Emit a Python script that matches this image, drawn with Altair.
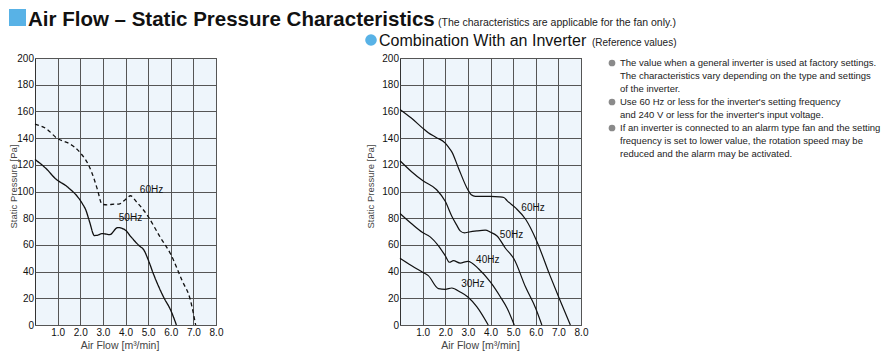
import altair as alt
import pandas as pd

FONT = "Liberation Sans"
BLUE = "#58b2e6"
GRID = "#555555"

# ---------------- data ----------------
X_TICKS = [1, 2, 3, 4, 5, 6, 7, 8]
Y_TICKS = [0, 20, 40, 60, 80, 100, 120, 140, 160, 180, 200]

# Left chart: fan only
L50_X = [0, 0.5, 0.91, 1.43, 2.09, 2.25, 2.4, 2.63, 2.8, 2.97, 3.3, 3.66, 4.0, 4.22, 4.63, 4.8, 5.0, 5.24, 5.68, 6.0, 6.25]
L50_Y = [124, 117, 109.5, 103.5, 91, 86, 78, 67, 67.5, 68.5, 67.7, 73, 71, 66.5, 59, 56.5, 49, 38, 21, 11, 0]
L60_X = [0, 0.5, 1.0, 1.3, 1.5, 2.0, 2.38, 2.6, 2.75, 2.97, 3.2, 3.5, 3.7, 4.0, 4.22, 4.5, 4.95, 5.55, 6.0, 6.5, 6.87, 7.1]
L60_Y = [150.5, 147, 139.6, 137.4, 136, 129, 119.4, 110, 102, 90.4, 90, 90.5, 90.5, 94, 96.8, 92, 82.5, 65.3, 53, 33.3, 18.6, 0]
L_LABELS = ["60Hz", "50Hz"]
L_LABEL_X = [5.15, 4.22]
L_LABEL_Y = [101, 79.8]

# Right chart: combination with an inverter
R60_X = [0, 0.5, 1.0, 1.25, 1.6, 2.0, 2.15, 2.29, 2.59, 3.0, 3.15, 3.33, 4.0, 4.4, 4.59, 4.74, 5.11, 5.56, 6.04, 6.6, 7.04, 7.53]
R60_Y = [161.5, 155, 147.5, 144, 140.5, 136.3, 133, 129.7, 117.3, 101.3, 97.5, 96.3, 96.3, 96, 95.5, 93, 87.7, 79, 63, 38.3, 19.8, 0]
R50_X = [0, 0.5, 1.0, 1.62, 2.0, 2.29, 2.5, 2.66, 2.85, 3.0, 3.4, 3.77, 4.0, 4.29, 4.66, 5.04, 5.55, 6.0, 6.27]
R50_Y = [123, 115, 108.2, 101.3, 92.7, 81.5, 75, 70.5, 69, 69.5, 70.5, 71, 69.5, 66.7, 57.5, 49.4, 28.4, 12.4, 0]
R40_X = [0, 0.5, 1.0, 1.32, 1.7, 2.0, 2.19, 2.36, 2.66, 3.0, 3.48, 4.0, 4.44, 4.74, 5.05]
R40_Y = [83.5, 76, 69.2, 66.2, 59.3, 51.9, 47, 48.2, 46.4, 47.7, 42, 32.1, 21, 12.4, 0]
R30_X = [0, 0.5, 1.0, 1.25, 1.7, 2.0, 2.29, 2.66, 3.0, 3.4, 3.9]
R30_Y = [50, 44.5, 39.5, 37, 27.2, 26.7, 27.7, 24.7, 21, 13.6, 0]
R_LABELS = ["60Hz", "50Hz", "40Hz", "30Hz"]
R_LABEL_X = [5.88, 4.93, 3.88, 3.22]
R_LABEL_Y = [87.5, 67.5, 48.5, 30.5]

TITLE = "Air Flow – Static Pressure Characteristics"
TITLE_NOTE = "(The characteristics are applicable for the fan only.)"
SUBHEAD = "Combination With an Inverter"
SUBHEAD_NOTE = "(Reference values)"
NOTES = [
    "The value when a general inverter is used at factory settings.",
    "The characteristics vary depending on the type and settings",
    "of the inverter.",
    "Use 60 Hz or less for the inverter's setting frequency",
    "and 240 V or less for the inverter's input voltage.",
    "If an inverter is connected to an alarm type fan and the setting",
    "frequency is set to lower value, the rotation speed may be",
    "reduced and the alarm may be activated.",
]
BULLET_LINES = [0, 3, 5]

W, H = 181, 267


def long_df(pairs):
    rows = []
    for name, xs, ys in pairs:
        for i, (a, b) in enumerate(zip(xs, ys)):
            rows.append({"series": name, "x": a, "y": b, "order": i})
    return pd.DataFrame(rows)


def encs(title_x, title_y, xt_x):
    xe = alt.X(
        "x:Q",
        scale=alt.Scale(domain=[0, 8], nice=False, zero=False),
        axis=alt.Axis(
            values=X_TICKS, format=".1f", title="Air Flow [m³/min]",
            grid=True, gridColor=GRID, gridWidth=1, ticks=False, domain=False,
            labelFlush=False, labelPadding=2, labelFont=FONT, labelFontSize=10,
            labelColor="#111", titleFont=FONT, titleFontSize=10.5,
            titleFontWeight="normal", titleColor="#444",
            titleX=xt_x, titleY=23, titleAlign="center", titleBaseline="alphabetic",
        ),
    )
    ye = alt.Y(
        "y:Q",
        scale=alt.Scale(domain=[0, 200], nice=False, zero=True),
        axis=alt.Axis(
            values=Y_TICKS, title="Static Pressure [Pa]",
            grid=True, gridColor=GRID, gridWidth=1, ticks=False, domain=False,
            labelPadding=1.5, labelFont=FONT, labelFontSize=10, labelColor="#111",
            titleFont=FONT, titleFontSize=9.5, titleFontWeight="normal",
            titleColor="#444", titleAngle=-90, titleX=title_x, titleY=title_y,
            titleAlign="center", titleBaseline="bottom",
        ),
    )
    return xe, ye


def one(text):
    return alt.Chart(pd.DataFrame({"t": [text]}))


# ---------------- left panel ----------------
lx, ly = encs(-16.5, 128, 84.5)
left_df = long_df([("60Hz", L60_X, L60_Y), ("50Hz", L50_X, L50_Y)])
left_lines = alt.Chart(left_df).mark_line(
    interpolate="monotone", color="#111", strokeWidth=1.3
).encode(
    x=lx, y=ly, order="order:Q", detail="series:N",
    strokeDash=alt.StrokeDash(
        "series:N",
        scale=alt.Scale(domain=["50Hz", "60Hz"], range=[[1, 0], [4, 3]]),
        legend=None,
    ),
)
left_labels = alt.Chart(
    pd.DataFrame({"x": L_LABEL_X, "y": L_LABEL_Y, "label": L_LABELS})
).mark_text(font=FONT, fontSize=10, color="#111").encode(x=lx, y=ly, text="label:N")

square = one("sq").mark_rect(color=BLUE).encode(
    x=alt.value(-26), x2=alt.value(-9), y=alt.value(-49), y2=alt.value(-32)
)
title = one(TITLE).mark_text(
    font=FONT, fontSize=20.5, fontWeight="bold", align="left", baseline="alphabetic", color="#111"
).encode(x=alt.value(-7), y=alt.value(-32), text="t:N")
title_note = one(TITLE_NOTE).mark_text(
    font=FONT, fontSize=10.5, align="left", baseline="alphabetic", color="#222"
).encode(x=alt.value(403), y=alt.value(-32), text="t:N")

left = alt.layer(left_lines, left_labels, square, title, title_note).properties(width=W, height=H)

# ---------------- right panel ----------------
rx, ry = encs(-24.6, 128, 80)
right_df = long_df([("60Hz", R60_X, R60_Y), ("50Hz", R50_X, R50_Y),
                    ("40Hz", R40_X, R40_Y), ("30Hz", R30_X, R30_Y)])
right_lines = alt.Chart(right_df).mark_line(
    interpolate="monotone", color="#111", strokeWidth=1.2
).encode(x=rx, y=ry, order="order:Q", detail="series:N")
right_labels = alt.Chart(
    pd.DataFrame({"x": R_LABEL_X, "y": R_LABEL_Y, "label": R_LABELS})
).mark_text(font=FONT, fontSize=10, color="#111").encode(x=rx, y=ry, text="label:N")

dot = one("dot").mark_circle(color=BLUE, opacity=1, size=135).encode(
    x=alt.value(-29), y=alt.value(-18)
)
subhead = one(SUBHEAD).mark_text(
    font=FONT, fontSize=16, align="left", baseline="alphabetic", color="#111"
).encode(x=alt.value(-21), y=alt.value(-12.5), text="t:N")
subhead_note = one(SUBHEAD_NOTE).mark_text(
    font=FONT, fontSize=10, align="left", baseline="alphabetic", color="#222"
).encode(x=alt.value(192), y=alt.value(-12.5), text="t:N")

notes_df = pd.DataFrame({"t": NOTES, "i": list(range(len(NOTES)))})
notes_df["yy"] = notes_df["i"] * 13 + 5
notes = alt.Chart(notes_df).mark_text(
    font=FONT, fontSize=9.5, align="left", baseline="middle", color="#222"
).encode(x=alt.value(220), y=alt.Y("yy:Q", scale=None), text="t:N")
bul_df = pd.DataFrame({"yy": [i * 13 + 5 for i in BULLET_LINES]})
bullets = alt.Chart(bul_df).mark_circle(color="#8a8a8a", opacity=1, size=45).encode(
    x=alt.value(212), y=alt.Y("yy:Q", scale=None)
)

right = alt.layer(right_lines, right_labels, dot, subhead, subhead_note, notes, bullets).properties(
    width=W, height=H
)

chart = alt.hconcat(left, right, spacing=184, bounds="flush", padding=0).configure_view(
    fill="#eef5fb", stroke="#333", strokeWidth=1
)

chart.save("out.html", embed_options={"renderer": "svg", "actions": False})
